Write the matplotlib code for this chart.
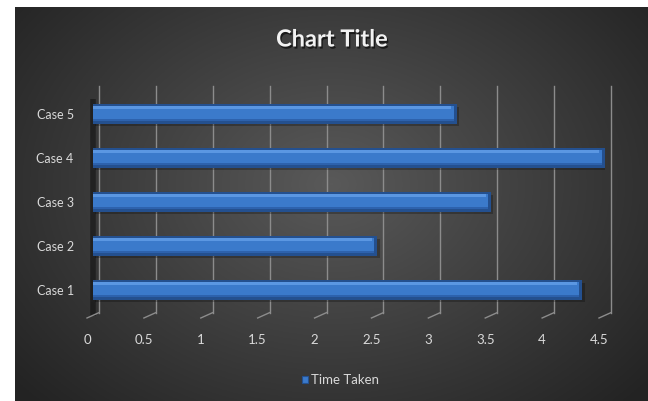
import numpy as np
import matplotlib.pyplot as plt
import matplotlib.transforms as mtransforms
import matplotlib.patheffects as pe
from matplotlib.patches import Rectangle

cases = ['Case 1', 'Case 2', 'Case 3', 'Case 4', 'Case 5']
time_taken = [4.3, 2.5, 3.5, 4.5, 3.2]
x_ticks = [0, 0.5, 1, 1.5, 2, 2.5, 3, 3.5, 4, 4.5]
x_tick_labels = ['0', '0.5', '1', '1.5', '2', '2.5', '3', '3.5', '4', '4.5']

W, H = 648, 402
fig = plt.figure(figsize=(W / 100, H / 100), dpi=100)
fig.patch.set_facecolor('white')
font = ['Lato', 'DejaVu Sans']
txt = '#d9d9d9'

# dark radial background
bg = fig.add_axes([15 / W, 0, (W - 15) / W, (H - 8) / H])
bg.set_axis_off()
gx, gy = np.meshgrid(np.linspace(0, 1, 400), np.linspace(0, 1, 250))
r = np.sqrt(((gx - 0.5) / 0.62) ** 2 + ((gy - 0.45) / 0.75) ** 2)
shade = np.clip(0.35 - 0.2 * r, 0.14, 0.35)
bg.imshow(np.dstack([shade] * 3), aspect='auto', extent=(0, 1, 0, 1))
bg.set_xlim(0, 1)
bg.set_ylim(0, 1)

ax = fig.add_axes([93 / W, (H - 313) / H, 512 / W, 220 / H])
ax.set_facecolor('none')
for s in ax.spines.values():
    s.set_visible(False)
ax.set_xlim(0, 4.5)
ax.set_ylim(-0.5, 4.5)
ax.set_xticks([])
ax.set_yticks([])

blend = mtransforms.blended_transform_factory(ax.transData, ax.transAxes)
back = mtransforms.offset_copy(blend, fig, x=6, y=6, units='dots')
front = mtransforms.offset_copy(blend, fig, x=-6, y=-6, units='dots')

# back wall gridlines and floor lines
for v in x_ticks:
    ax.plot([v, v], [-0.03, 1.0], transform=back, color='#8c8c8c', lw=1.0,
            clip_on=False, zorder=1)
    bx, by = back.transform((v, -0.03))
    fx, fy = front.transform((v, 0))
    fig.add_artist(plt.Line2D([bx / W, fx / W], [by / H, fy / H],
                              color='#8c8c8c', lw=1.0))

# left wall shadow
ax.plot([0, 0], [-0.02, 0.97], transform=blend, color='black', lw=4,
        alpha=0.4, clip_on=False, zorder=2, solid_capstyle='butt')

y = np.arange(len(cases))
# shadow, dark rim, body, highlight
ax.barh(y - 0.06, time_taken, height=0.42, left=0.02, color='black', alpha=0.25, zorder=3)
ax.barh(y, time_taken, height=0.44, color='#24508f', zorder=4)
ax.barh(y + 0.02, [t - 0.03 for t in time_taken], height=0.34, color='#3b7acb', zorder=5)
ax.barh(y + 0.15, [t - 0.05 for t in time_taken], height=0.06, color='#5b97e2', zorder=6)
ax.barh(y - 0.14, [t - 0.03 for t in time_taken], height=0.06, color='#2d62ad', zorder=6)

# category labels
for yi, c in zip(y, cases):
    ax.text(-0.17, yi, c, ha='right', va='center', color=txt, fontsize=9,
            family=font)

# value axis labels on front edge
for v, lab in zip(x_ticks, x_tick_labels):
    px, py = front.transform((v, 0))
    fig.text(px / W, (H - 340) / H, lab, ha='center', va='center', color=txt,
             fontsize=9.5, family=font)

# title with soft shadow
fig.text(332 / W, (H - 40) / H, 'Chart Title', ha='center', va='center',
         color='#f2f2f2', fontsize=17, fontweight='bold', family=font,
         path_effects=[pe.withSimplePatchShadow(offset=(1, -1.5), shadow_rgbFace='black', alpha=0.6)])

# legend
fig.patches.append(Rectangle((302 / W, (H - 384) / H), 6 / W, 7 / H,
                             transform=fig.transFigure, facecolor='#3b7acb',
                             edgecolor='#24508f', lw=0.8))
fig.text(311 / W, (H - 380) / H, 'Time Taken', ha='left', va='center',
         color=txt, fontsize=9.5, family=font)

fig.savefig('out.png', dpi=100, facecolor=fig.get_facecolor())
